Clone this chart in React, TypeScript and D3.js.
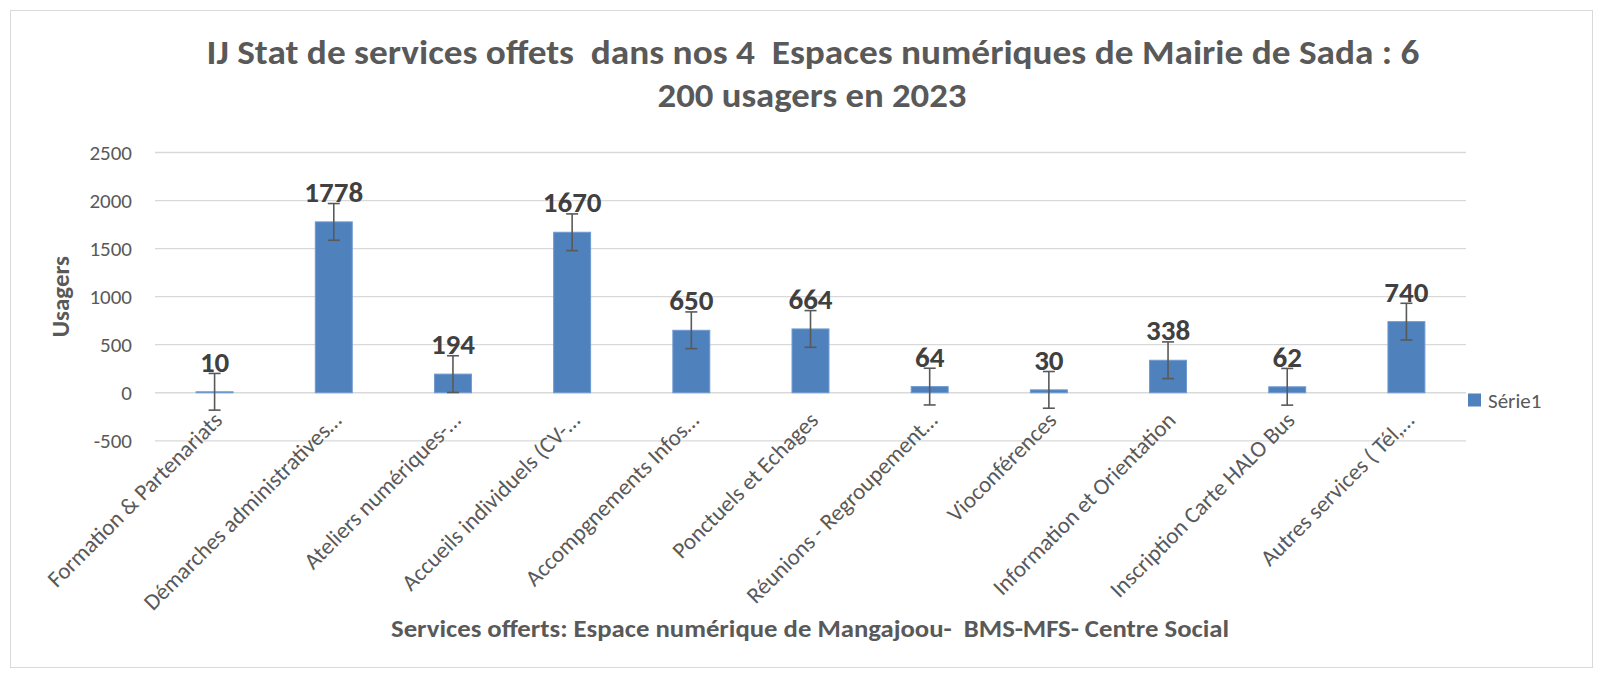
import React from "react";
import * as d3 from "d3";

const categories: string[] = [
  "Formation & Partenariats",
  "Démarches administratives…",
  "Ateliers numériques-…",
  "Accueils individuels (CV-…",
  "Accompgnements Infos…",
  "Ponctuels et Echages",
  "Réunions - Regroupement…",
  "Vioconférences",
  "Information et Orientation",
  "Inscription Carte HALO Bus",
  "Autres services ( Tél,…",
];
const values: number[] = [10, 1778, 194, 1670, 650, 664, 64, 30, 338, 62, 740];
const errorMargin = 191;
const yTicks: number[] = [-500, 0, 500, 1000, 1500, 2000, 2500];
const titleLines: string[] = [
  "IJ Stat de services offets  dans nos 4  Espaces numériques de Mairie de Sada : 6",
  "200 usagers en 2023",
];
const xTitle = "Services offerts: Espace numérique de Mangajoou-  BMS-MFS- Centre Social";
const yTitle = "Usagers";
const seriesName = "Série1";

const FONT = "Carlito, Calibri, Lato, 'Open Sans', sans-serif";
const BAR = "#4F81BD";
const GRID = "#D9D9D9";
const TXT = "#595959";

export default function App() {
  const x = d3
    .scaleBand<string>()
    .domain(categories)
    .range([155, 1466])
    .paddingInner(0.69)
    .paddingOuter(0.345);
  const y = d3.scaleLinear().domain([-500, 2500]).range([440.8, 152.5]);
  const y0 = y(0);

  return (
    <svg
      width={1600}
      height={674}
      style={{ position: "absolute", left: 0, top: 0, background: "#fff" }}
      fontFamily={FONT}
    >
      <rect x={0} y={0} width={1600} height={674} fill="#fff" />
      <rect x={10.5} y={10.5} width={1582} height={657} fill="#fff" stroke={GRID} strokeWidth={1} />

      {/* title */}
      <text x={813} y={64} textAnchor="middle" fontWeight="bold" fontSize={35} fill={TXT} textLength={1213} lengthAdjust="spacingAndGlyphs" style={{ whiteSpace: "pre" }}>
        {titleLines[0]}
      </text>
      <text x={812} y={107} textAnchor="middle" fontWeight="bold" fontSize={35} fill={TXT} textLength={309} lengthAdjust="spacingAndGlyphs">
        {titleLines[1]}
      </text>

      {/* gridlines and y ticks */}
      {yTicks.map((t) => (
        <g key={t}>
          <line x1={155} x2={1466} y1={y(t)} y2={y(t)} stroke={GRID} strokeWidth={1.3} />
          <text x={132} y={y(t)} dy="0.36em" textAnchor="end" fontSize={21} fill={TXT}>
            {t}
          </text>
        </g>
      ))}

      {/* bars */}
      {values.map((v, i) => {
        const c = categories[i];
        const bx = x(c)!;
        const bw = x.bandwidth();
        return (
          <rect
            key={c}
            x={bx}
            y={Math.min(y(v), y0)}
            width={bw}
            height={Math.abs(y0 - y(v))}
            fill={BAR}
            stroke="#6F9AD0"
            strokeWidth={1}
          />
        );
      })}

      {/* error bars */}
      {values.map((v, i) => {
        const cx = x(categories[i])! + x.bandwidth() / 2;
        const top = y(v + errorMargin);
        const bot = y(v - errorMargin);
        return (
          <g key={"e" + i} stroke="#595959" strokeWidth={1.6}>
            <line x1={cx} x2={cx} y1={top} y2={bot} />
            <line x1={cx - 6} x2={cx + 6} y1={top} y2={top} />
            <line x1={cx - 6} x2={cx + 6} y1={bot} y2={bot} />
          </g>
        );
      })}

      {/* data labels */}
      {values.map((v, i) => {
        const cx = x(categories[i])! + x.bandwidth() / 2;
        return (
          <text key={"l" + i} x={cx} y={y(v) - 20} textAnchor="middle" fontWeight="bold" fontSize={29} fill="#404040">
            {v}
          </text>
        );
      })}

      {/* category labels */}
      {categories.map((c) => {
        const cx = x(c)! + x.bandwidth() / 2;
        const ax = cx + 9;
        const ay = y0 + 29;
        return (
          <text
            key={"c" + c}
            x={ax}
            y={ay}
            textAnchor="end"
            fontSize={23}
            fill={TXT}
            transform={`rotate(-45 ${ax} ${ay})`}
          >
            {c}
          </text>
        );
      })}

      {/* axis titles */}
      <text x={810} y={637} textAnchor="middle" fontWeight="bold" fontSize={24} fill={TXT} textLength={838} lengthAdjust="spacingAndGlyphs" style={{ whiteSpace: "pre" }}>
        {xTitle}
      </text>
      <text
        x={0}
        y={0}
        transform={`translate(69 296.6) rotate(-90)`}
        textAnchor="middle"
        fontWeight="bold"
        fontSize={25}
        fill={TXT}
      >
        {yTitle}
      </text>

      {/* legend */}
      <rect x={1468} y={393.5} width={13} height={13} fill={BAR} />
      <text x={1488} y={408} fontSize={21} fill={TXT}>
        {seriesName}
      </text>
    </svg>
  );
}
